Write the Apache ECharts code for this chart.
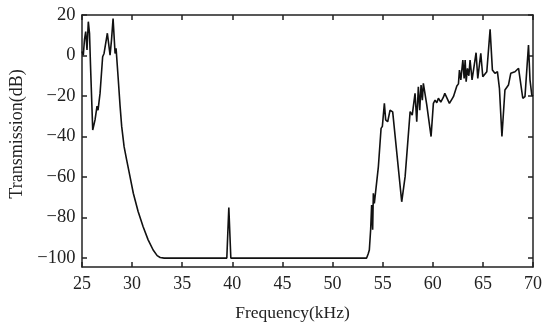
<!DOCTYPE html>
<html>
<head>
<meta charset="utf-8">
<script src="https://cdn.jsdelivr.net/npm/echarts@6/dist/echarts.min.js"></script>
<style>html,body{margin:0;padding:0;background:#fff}#c{width:550px;height:333px}</style>
</head>
<body>
<div id="c"></div>
<script>
const xTicks = [25, 30, 35, 40, 45, 50, 55, 60, 65, 70];
const yTicks = [-100, -80, -60, -40, -20, 0, 20];
const freq = [25.0,25.13,25.25,25.37,25.5,25.63,25.75,25.85,26.07,26.2,26.3,26.5,26.6,26.8,27.06,27.2,27.3,27.53,27.8,27.95,28.1,28.3,28.4,28.5,28.6,28.8,28.96,29.2,29.46,29.8,30.12,30.6,31.1,31.6,32.1,32.5,32.8,33.2,39.45,39.65,39.85,53.4,53.55,53.67,53.8,53.9,54.0,54.07,54.17,54.34,54.57,54.84,54.97,55.17,55.3,55.5,55.74,56.0,56.9,57.24,57.74,57.95,58.23,58.4,58.56,58.7,58.83,58.96,59.06,59.4,59.83,60.06,60.23,60.4,60.56,60.8,61.06,61.2,61.66,62.06,62.4,62.56,62.66,62.8,63.0,63.13,63.23,63.33,63.46,63.6,63.72,63.92,64.32,64.49,64.79,64.99,65.39,65.72,65.95,66.2,66.45,66.65,66.9,67.2,67.55,67.78,68.2,68.56,68.98,69.2,69.55,69.7,69.88,70.0];
const trans = [2,0.2,8,11.8,2.7,16.7,11,-5,-36.8,-34,-31.8,-25,-27,-18.7,-0.6,1,1,11,0.2,8,18.3,1,3.5,2.7,-10.5,-25,-35,-45,-51.6,-60,-68,-77,-84.5,-91,-96,-98.8,-99.7,-100,-100,-75,-100,-100,-98,-96,-86,-73.8,-86,-68,-73,-73,-55,-36,-35,-23.6,-31.8,-32.7,-27,-27.8,-72.2,-59.8,-27.7,-29.4,-18.7,-32.7,-15.4,-27,-14.6,-22,-13.7,-24.4,-40,-23.6,-22,-23.3,-21.1,-23,-20.6,-18.7,-23.6,-20.3,-15,-14,-7.2,-12,-2.2,-11.3,-2.2,-12.9,-6.3,-10,-2.2,-12,1.4,-11.3,1.1,-10.5,-8,12.9,-7.2,-8.8,-8,-16.2,-40,-17,-14.6,-8.8,-8,-6.3,-21.1,-20.3,5.2,-12,-19.5,-20];

const font = 'Liberation Serif';
const fmt = v => String(v).replace('-', '\u2212');
const lineStyle = {color: '#222', width: 1.5};
const chart = echarts.init(document.getElementById('c'), null, {renderer: 'canvas'});
chart.setOption({
  animation: false,
  backgroundColor: '#fff',
  grid: {left: 82, right: 17, top: 15, bottom: 66},
  xAxis: [
    {type: 'value', min: 25, max: 70, interval: 5, position: 'bottom',
     name: 'Frequency(kHz)', nameLocation: 'middle', nameGap: 37,
     nameTextStyle: {fontFamily: font, fontSize: 17.5, color: '#222', padding: [0, 30, 0, 0]},
     axisLine: {show: true, onZero: false, lineStyle}, axisTick: {show: true, inside: true, length: 5, lineStyle},
     axisLabel: {fontFamily: font, fontSize: 18, color: '#222', margin: 8},
     splitLine: {show: false}},
    {type: 'value', min: 25, max: 70, interval: 5, position: 'top',
     axisLine: {show: true, onZero: false, lineStyle}, axisTick: {show: true, inside: true, length: 5, lineStyle},
     axisLabel: {show: false}, splitLine: {show: false}}
  ],
  yAxis: [
    {type: 'value', min: -104.4, max: 20, position: 'left',
     name: 'Transmission(dB)', nameLocation: 'middle', nameGap: 56,
     nameTextStyle: {fontFamily: font, fontSize: 18, color: '#222', padding: [0, 0, 0, 14]},
     axisLine: {show: true, onZero: false, lineStyle},
     axisTick: {show: true, inside: true, length: 5, lineStyle, customValues: yTicks},
     axisLabel: {fontFamily: font, fontSize: 18.5, color: '#222', margin: 6.5, customValues: yTicks, formatter: fmt},
     splitLine: {show: false}},
    {type: 'value', min: -104.4, max: 20, position: 'right',
     axisLine: {show: true, onZero: false, lineStyle},
     axisTick: {show: true, inside: true, length: 5, lineStyle, customValues: yTicks},
     axisLabel: {show: false, customValues: yTicks}, splitLine: {show: false}}
  ],
  series: [{
    type: 'line', xAxisIndex: 0, yAxisIndex: 0,
    data: freq.map((f, i) => [f, trans[i]]),
    showSymbol: false, symbol: 'none',
    lineStyle: {color: '#111', width: 1.6}
  }]
});
</script>
</body>
</html>
